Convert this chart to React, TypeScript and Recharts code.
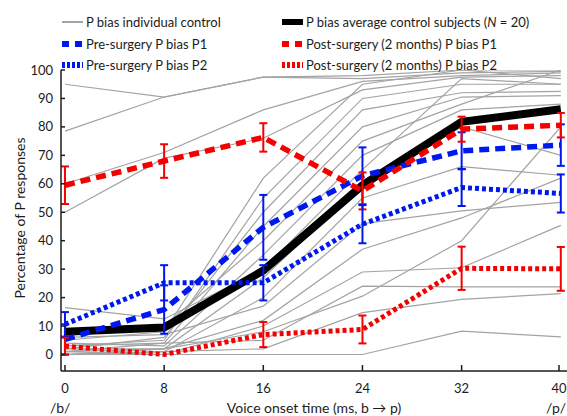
import { LineChart, Line, XAxis, YAxis, ErrorBar } from 'recharts';

const VOT = [0, 8, 16, 24, 32, 40];
const Y_TICKS = [0, 10, 20, 30, 40, 50, 60, 70, 80, 90, 100];

// individual control subjects (% P responses at each VOT step)
const CONTROLS: number[][] = [
  [95, 90.5, 97.5, 98, 100, 100],
  [78.5, 90.5, 97.5, 97, 99, 99.5],
  [60, 71, 86, 96, 98, 99],
  [50, 69, 76, 93, 97.5, 98],
  [5, 8, 62, 95, 100, 97],
  [3, 5, 55, 90, 95, 95],
  [2, 6, 50, 86, 92, 92.5],
  [1, 4, 45, 80, 90.5, 91],
  [8, 10, 40, 75, 88, 100],
  [4, 3, 35, 70, 86, 88],
  [16.5, 12.5, 30, 65, 97, 95],
  [2, 2, 27, 60, 80, 70],
  [0, 1, 20, 55, 66, 63],
  [6, 7, 17, 46, 50.5, 53.5],
  [1, 2, 12, 37, 48, 62],
  [0, 0, 10, 29, 30.5, 45.4],
  [3, 4, 5, 24, 23.8, 23.8],
  [0, 1, 2, 14.7, 19.4, 21.4],
  [1, 0, 0, 0, 8.2, 6.2],
  [0, 2, 8, 20.5, 40, 80],
];

const AVG = [8, 9.5, 29.5, 59.5, 81.8, 86.2];

const PRE_P1 = [5.3, 15.8, 44.7, 62.8, 71.6, 73.6];
const PRE_P1_ERR = [5.3, 8.5, 11.4, 10, 6.5, 7.3];

const POST_P1 = [59.5, 68, 76.3, 57.5, 79.2, 80.6];
const POST_P1_ERR = [6.6, 5.9, 5, 6.5, 4.4, 4.3];

const PRE_P2 = [10.6, 25.2, 25.2, 45.8, 58.7, 56.6];
const PRE_P2_ERR = [4.3, 6.2, 6.2, 6.7, 6.5, 6.7];

const POST_P2 = [2.9, 0, 7, 8.8, 30.3, 30.1];
const POST_P2_ERR = [3, 0, 4.4, 4.9, 7.6, 7.7];

const FONT = 'Lato, "Liberation Sans", sans-serif';
const INK = '#1c1c1c';
const GRAY = '#a3a3a3';
const BLUE = '#0018f0';
const RED = '#f50000';

const data = VOT.map((x, i) => {
  const row: Record<string, number> = {
    x,
    avg: AVG[i],
    preP1: PRE_P1[i],
    preP1Err: PRE_P1_ERR[i],
    postP1: POST_P1[i],
    postP1Err: POST_P1_ERR[i],
    preP2: PRE_P2[i],
    preP2Err: PRE_P2_ERR[i],
    postP2: POST_P2[i],
    postP2Err: POST_P2_ERR[i],
  };
  CONTROLS.forEach((c, j) => {
    row['c' + j] = c[i];
  });
  return row;
});

const YTick = (props: any) => {
  const { x, y, payload } = props;
  return (
    <g>
      <line x1={x + 8} x2={x + 12} y1={y} y2={y} stroke={INK} strokeWidth={1.5} />
      <text x={x} y={y} dy="0.35em" textAnchor="end" fontSize={13} fill={INK} fontFamily={FONT}>
        {payload.value}
      </text>
    </g>
  );
};

const XTick = (props: any) => {
  const { x, y, payload } = props;
  return (
    <g>
      <line x1={x} x2={x} y1={y} y2={y - 6} stroke={INK} strokeWidth={1.5} />
      <text x={x} y={y + 22} textAnchor="middle" fontSize={13} fill={INK} fontFamily={FONT}>
        {payload.value}
      </text>
    </g>
  );
};

const LEGEND_ITEMS = [
  { x: 62, y: 22, stroke: GRAY, width: 2, dash: undefined, label: 'P bias individual control' },
  { x: 282, y: 22, stroke: '#000', width: 6, dash: undefined, label: 'avg' },
  { x: 62, y: 44, stroke: BLUE, width: 6, dash: '7 6', label: 'Pre-surgery P bias P1' },
  { x: 282, y: 44, stroke: RED, width: 6, dash: '7 6', label: 'Post-surgery (2 months) P bias P1' },
  { x: 62, y: 65, stroke: BLUE, width: 6, dash: '3 2', label: 'Pre-surgery P bias P2' },
  { x: 282, y: 65, stroke: RED, width: 6, dash: '3 2', label: 'Post-surgery (2 months) P bias P2' },
];

const Legend = () => (
  <>
    {LEGEND_ITEMS.map((it) => (
      <div
        key={it.label}
        style={{
          position: 'absolute',
          left: it.x,
          top: it.y - 10,
          height: 20,
          display: 'flex',
          alignItems: 'center',
          whiteSpace: 'nowrap',
          fontSize: 13,
          color: INK,
          fontFamily: FONT,
        }}
      >
        <svg width={22} height={10} style={{ marginRight: 2 }}>
          <line x1={0} x2={21} y1={5} y2={5} stroke={it.stroke} strokeWidth={it.width} strokeDasharray={it.dash} />
        </svg>
        {it.label === 'avg' ? (
          <span>
            P bias average control subjects (<i>N</i> = 20)
          </span>
        ) : (
          <span>{it.label}</span>
        )}
      </div>
    ))}
  </>
);

const bottomText = {
  position: 'absolute' as const,
  top: 401,
  fontSize: 14,
  lineHeight: '14px',
  whiteSpace: 'nowrap' as const,
  color: INK,
};

export default function App() {
  return (
    <div
      style={{
        position: 'absolute',
        left: 0,
        top: 0,
        width: 567,
        height: 416,
        overflow: 'hidden',
        background: '#fff',
        fontFamily: FONT,
      }}
    >
      <LineChart width={567} height={416} data={data} margin={{ top: 70, right: 0, bottom: 0, left: 0 }}>
        <XAxis
          type="number"
          dataKey="x"
          domain={[-0.32, 40.5]}
          ticks={VOT}
          height={45}
          tickSize={0}
          tickMargin={0}
          tick={<XTick />}
          axisLine={{ stroke: INK, strokeWidth: 1.5 }}
          allowDataOverflow
        />
        <YAxis
          type="number"
          domain={[-5.8, 100]}
          ticks={Y_TICKS}
          width={61}
          tickSize={0}
          tickMargin={8}
          tick={<YTick />}
          axisLine={{ stroke: INK, strokeWidth: 1.5 }}
          allowDataOverflow
        />
        {CONTROLS.map((_, j) => (
          <Line
            key={'c' + j}
            dataKey={'c' + j}
            type="linear"
            stroke={GRAY}
            strokeWidth={1.2}
            dot={false}
            activeDot={false}
            isAnimationActive={false}
          />
        ))}
        <Line dataKey="avg" type="linear" stroke="#000" strokeWidth={8} dot={false} activeDot={false} isAnimationActive={false} />
        <Line dataKey="preP1" type="linear" stroke={BLUE} strokeWidth={5.5} strokeDasharray="10 6" dot={false} activeDot={false} isAnimationActive={false}>
          <ErrorBar dataKey="preP1Err" direction="y" width={4} stroke={BLUE} strokeWidth={2} />
        </Line>
        <Line dataKey="postP1" type="linear" stroke={RED} strokeWidth={5.5} strokeDasharray="10 6" dot={false} activeDot={false} isAnimationActive={false}>
          <ErrorBar dataKey="postP1Err" direction="y" width={4} stroke={RED} strokeWidth={2} />
        </Line>
        <Line dataKey="preP2" type="linear" stroke={BLUE} strokeWidth={5} strokeDasharray="4 3" dot={false} activeDot={false} isAnimationActive={false}>
          <ErrorBar dataKey="preP2Err" direction="y" width={4} stroke={BLUE} strokeWidth={2} />
        </Line>
        <Line dataKey="postP2" type="linear" stroke={RED} strokeWidth={5} strokeDasharray="4 3" dot={false} activeDot={false} isAnimationActive={false}>
          <ErrorBar dataKey="postP2Err" direction="y" width={4} stroke={RED} strokeWidth={2} />
        </Line>
      </LineChart>

      <Legend />

      <div
        style={{
          position: 'absolute',
          left: 19,
          top: 218,
          transform: 'translate(-50%, -50%) rotate(-90deg)',
          whiteSpace: 'nowrap',
          fontSize: 14,
          color: INK,
        }}
      >
        Percentage of P responses
      </div>
      <div style={{ ...bottomText, left: 50 }}>/b/</div>
      <div style={{ ...bottomText, left: 314, transform: 'translateX(-50%)' }}>Voice onset time (ms, b → p)</div>
      <div style={{ ...bottomText, left: 546 }}>/p/</div>
    </div>
  );
}
